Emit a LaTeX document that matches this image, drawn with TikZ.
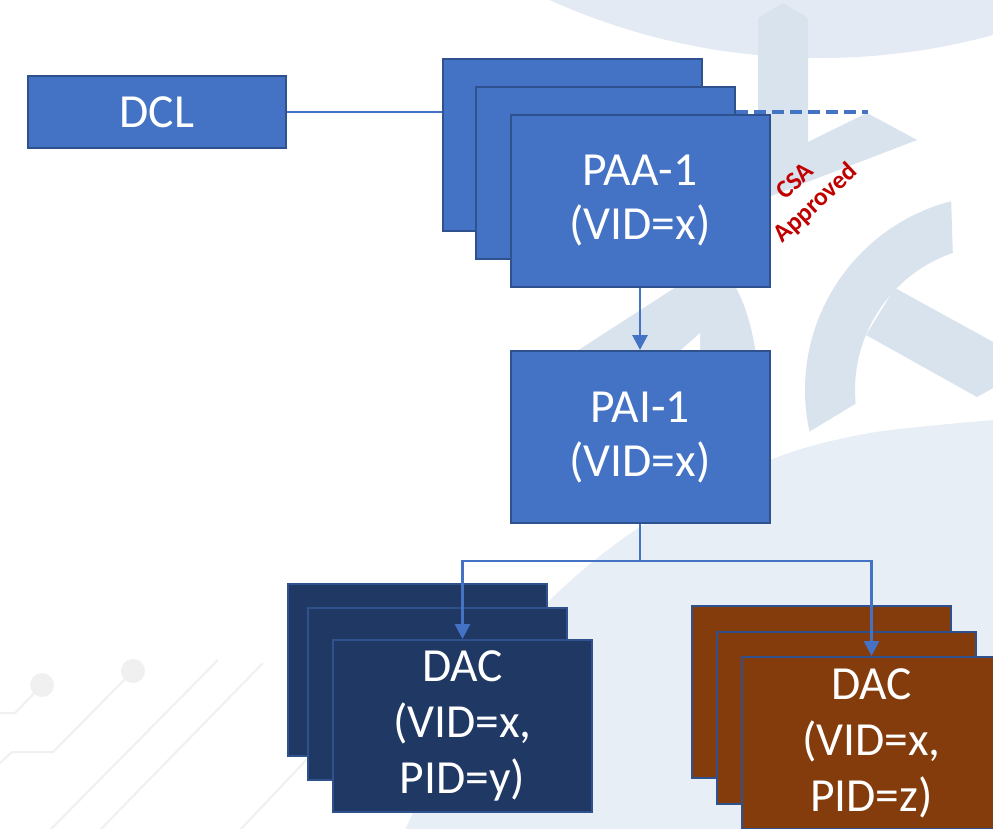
\documentclass[tikz,border=0pt]{standalone}
\usepackage{fontspec}
\setmainfont{Carlito}
\usetikzlibrary{arrows.meta}
\definecolor{boxblue}{HTML}{4472C4}
\definecolor{boxedge}{HTML}{2F528F}
\definecolor{dacnavy}{HTML}{203864}
\definecolor{dacbrown}{HTML}{843C0C}
\definecolor{csared}{HTML}{C00000}
\definecolor{wmA}{HTML}{D9E3EE}
\definecolor{wmB}{HTML}{E3EAF3}
\definecolor{wmC}{HTML}{E7EEF6}
\definecolor{circuit}{HTML}{F0F0F0}
\begin{document}
\begin{tikzpicture}[x=1pt,y=-1pt,
  card/.style={draw=boxedge, line width=2pt, minimum width=259pt, minimum height=172pt,
    inner sep=0pt, text=white, align=center, font=\fontsize{47.5}{54}\selectfont},
  bluecard/.style={card, fill=boxblue},
  navycard/.style={card, fill=dacnavy},
  browncard/.style={card, fill=dacbrown},
  conn/.style={draw=boxblue, line width=2.8pt},
  arrowed/.style={-{Triangle[length=15pt,width=15pt]}},
  wmark/.style={fill=wmA},
  trace/.style={draw=circuit, line width=2pt}]
\useasboundingbox (0,0) rectangle (993,828);
\clip (0,0) rectangle (993,828);
\fill[white] (0,0) rectangle (993,828);
% ---- watermark ----
\fill[wmC] plot[smooth] coordinates {(405,830) (470,700) (547,603) (640,527) (770,460) (870,433) (995,420)} -- (995,830) -- cycle;
\fill[wmB] (820,-599.4) circle[radius=657.4];
\fill[wmark] (758,18) -- (783,3) -- (808,18) -- (808,142) -- (867,113) -- (917,140) -- (771,196) -- (758,196) -- cycle;
\fill[wmark] ([shift={(1000,390)}]167.7:195) arc[start angle=167.7, end angle=255.5, radius=195]
  -- ([shift={(1000,390)}]251:145) arc[start angle=251, end angle=174.6, radius=145] -- cycle;
\fill[wmark] (895,288) -- (995,343) -- (995,387) -- (977,397) -- (866,335) -- cycle;
\fill[wmark] (560,362) -- (690,278) -- (730,278) .. controls (745,300) and (753,330) .. (757,362) -- cycle;
\fill[white] (680,351) -- (700,333) -- (700,352) -- cycle;
% circuit traces
\draw[trace] (0,713) -- (15,713) -- (42,685);
\fill[circuit] (42,685) circle[radius=12];
\draw[trace] (0,763) -- (12,752) -- (53,752) -- (133,671);
\fill[circuit] (133,671) circle[radius=12];
\draw[trace] (50,830) -- (218,660);
\draw[trace] (100,830) -- (263,663);
\draw[trace] (240,830) -- (310,756);
% ---- boxes ----
\node[bluecard] (dcl) at (157,112) [minimum width=258pt, minimum height=72pt] {DCL};
\node[bluecard] (paab) at (572.5,144.5) {};
\node[bluecard] (paam) at (605.5,173) {};
\node[bluecard] (paaf) at (640,201) {PAA-1\\(VID=x)};
\node[bluecard] (pai) at (640,437) {PAI-1\\(VID=x)};
\node[navycard] (daclb) at (417.5,670) {};
\node[navycard] (daclm) at (437.5,694) {};
\node[navycard, font=\fontsize{47.5}{56}\selectfont] (dacl) at (462.5,726) {DAC\\(VID=x,\\PID=y)};
\node[browncard] (dacrb) at (821,692) {};
\node[browncard] (dacrm) at (846,717.5) {};
\node[browncard, font=\fontsize{47.5}{56}\selectfont] (dacr) at (871.5,743) {DAC\\(VID=x,\\PID=z)};
\node[rotate=43, text=csared, align=center, inner sep=0pt,
      font=\bfseries\fontsize{25.5}{30}\selectfont] (csa) at (806,193) {CSA\\Approved};
% ---- connectors ----
\coordinate (dashend) at (868,112);
\coordinate (split) at (640,561);
\draw[conn] (dcl.east) -- (dcl.east -| paab.west);
\draw[conn, line width=3.8pt, dash pattern=on 12pt off 6pt] (dashend -| paam.east) -- (dashend);
\draw[conn, arrowed] (paaf.south) -- (pai.north);
\draw[conn, arrowed] (pai.south) -- (split) -| (dacl.north);
\draw[conn, arrowed] (split) -| (dacr.north);
\end{tikzpicture}
\end{document}
